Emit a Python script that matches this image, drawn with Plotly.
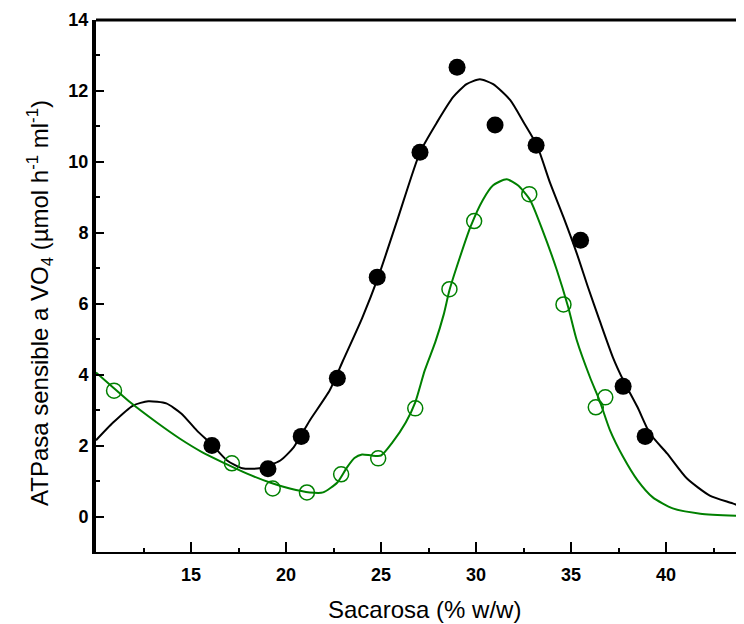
import plotly.graph_objects as go

# Data points
black_x = [16.1, 19.05, 20.8, 22.7, 24.8, 27.05, 29.0, 31.0, 33.16, 35.5, 37.74, 38.9]
black_y = [2.0, 1.35, 2.26, 3.9, 6.75, 10.27, 12.67, 11.04, 10.47, 7.79, 3.67, 2.26]

green_x = [10.95, 17.15, 19.3, 21.1, 22.9, 24.85, 26.8, 28.6, 29.9, 32.8, 34.6, 36.3, 36.8]
green_y = [3.55, 1.5, 0.79, 0.68, 1.19, 1.64, 3.05, 6.41, 8.33, 9.09, 5.98, 3.08, 3.36]

# Fitted curves
black_curve_x = [10.0, 10.9, 11.95, 12.75, 13.7, 14.5, 15.3, 16.15, 16.9, 17.7, 18.6, 19.7,
                 20.4, 21.25, 22.3, 23.0, 24.0, 24.85, 25.85, 27.05, 27.95, 28.8, 29.5, 30.2,
                 30.9, 31.8, 32.5, 33.2, 33.9, 34.6, 35.3, 35.9, 36.5, 37.2, 37.75, 38.5,
                 39.15, 40.05, 41.1, 42.3, 43.5, 44.1]
black_curve_y = [2.15, 2.65, 3.13, 3.25, 3.19, 2.9, 2.43, 2.0, 1.58, 1.36, 1.36, 1.58,
                 1.95, 2.71, 3.56, 4.4, 5.59, 6.75, 8.35, 10.27, 11.12, 11.83, 12.19, 12.33,
                 12.19, 11.74, 11.12, 10.47, 9.4, 8.44, 7.42, 6.45, 5.53, 4.49, 3.84, 3.08,
                 2.34, 1.78, 1.07, 0.59, 0.37, 0.25]

green_curve_x = [10.0, 10.9, 11.8, 13.2, 14.4, 15.6, 16.7, 17.95, 19.15, 20.2, 21.25, 21.95,
                 22.7, 23.2, 23.6, 24.0, 24.5, 25.0, 25.6, 26.3, 26.8, 27.3, 27.85, 28.3,
                 28.6, 29.15, 29.7, 30.35, 30.9, 31.6, 32.2, 32.85, 33.5, 34.25, 34.85, 35.3,
                 36.0, 36.5, 37.05, 37.75, 38.5, 39.3, 40.35, 41.8, 44.1]
green_curve_y = [4.06, 3.64, 3.22, 2.65, 2.2, 1.81, 1.52, 1.21, 0.96, 0.79, 0.68, 0.68,
                 0.96, 1.38, 1.65, 1.75, 1.72, 1.72, 2.09, 2.65, 3.22, 4.12, 4.91, 5.7,
                 6.38, 7.31, 8.16, 8.92, 9.34, 9.51, 9.34, 8.92, 8.07, 6.95, 5.9, 4.97,
                 3.92, 3.27, 2.43, 1.67, 1.02, 0.54, 0.23, 0.08, 0.01]

x_ticks = [15, 20, 25, 30, 35, 40]
y_ticks = [0, 2, 4, 6, 8, 10, 12, 14]

GREEN = "#008000"
FONT = "Liberation Sans"

# The page body has an 8 px default margin; the figure is sized to fill the rest.
W, H = 736, 616
ML, MT, MB = 88, 12, 72
PW = W - ML
PH = H - MT - MB

fig = go.Figure()
fig.add_trace(go.Scatter(x=black_curve_x, y=black_curve_y, mode="lines",
                         line=dict(color="black", width=2, shape="spline", smoothing=0.6),
                         hoverinfo="skip"))
fig.add_trace(go.Scatter(x=green_curve_x, y=green_curve_y, mode="lines",
                         line=dict(color=GREEN, width=2, shape="spline", smoothing=0.6),
                         hoverinfo="skip"))
fig.add_trace(go.Scatter(x=black_x, y=black_y, mode="markers",
                         marker=dict(symbol="circle", size=17, color="black")))
fig.add_trace(go.Scatter(x=green_x, y=green_y, mode="markers",
                         marker=dict(symbol="circle-open", size=15, color=GREEN,
                                     line=dict(width=1.5, color=GREEN))))

fig.update_layout(
    width=W, height=H,
    margin=dict(l=ML, r=0, t=MT, b=MB, pad=0),
    paper_bgcolor="white", plot_bgcolor="white",
    showlegend=False,
    font=dict(family=FONT, color="black"),
)
fig.update_xaxes(
    range=[10, 44.1], tickvals=x_ticks, ticks="inside", ticklen=10, tickwidth=2,
    tickcolor="black", showline=True, linewidth=2, linecolor="black",
    showgrid=False, zeroline=False, ticklabelstandoff=5,
    tickfont=dict(family=FONT, size=18, weight="bold", color="black"),
    minor=dict(tickvals=[12.5, 17.5, 22.5, 27.5, 32.5, 37.5, 42.5], ticks="inside",
               ticklen=4, tickwidth=2, tickcolor="black"),
)
fig.update_yaxes(
    range=[-1, 14], tickvals=y_ticks, ticks="inside", ticklen=8, tickwidth=2,
    tickcolor="black", showline=True, linewidth=4, linecolor="black",
    showgrid=False, zeroline=False,
    tickfont=dict(family=FONT, size=18, weight="bold", color="black"),
    minor=dict(tickvals=[1, 3, 5, 7, 9, 11, 13], ticks="inside",
               ticklen=4, tickwidth=2, tickcolor="black"),
)
fig.add_shape(type="line", xref="paper", yref="paper", x0=0, x1=1, y0=1, y1=1,
              line=dict(color="black", width=3))
# positions in page pixels converted to paper coordinates (plot area: x 96..744, y 20..552)
fig.add_annotation(text="Sacarosa (% w/w)", xref="paper", yref="paper",
                   x=(424 - 96) / PW, y=(552 - 609) / PH, xanchor="center", yanchor="middle",
                   showarrow=False, font=dict(family=FONT, size=24, color="black"))
fig.add_annotation(text="ATPasa sensible a VO<sub>4</sub> (µmol h<sup>-1</sup> ml<sup>-1</sup>)",
                   xref="paper", yref="paper", textangle=-90,
                   x=(40 - 96) / PW, y=(552 - 303) / PH, xanchor="center", yanchor="middle",
                   showarrow=False, font=dict(family=FONT, size=24, color="black"))

fig.write_html("out.html")
